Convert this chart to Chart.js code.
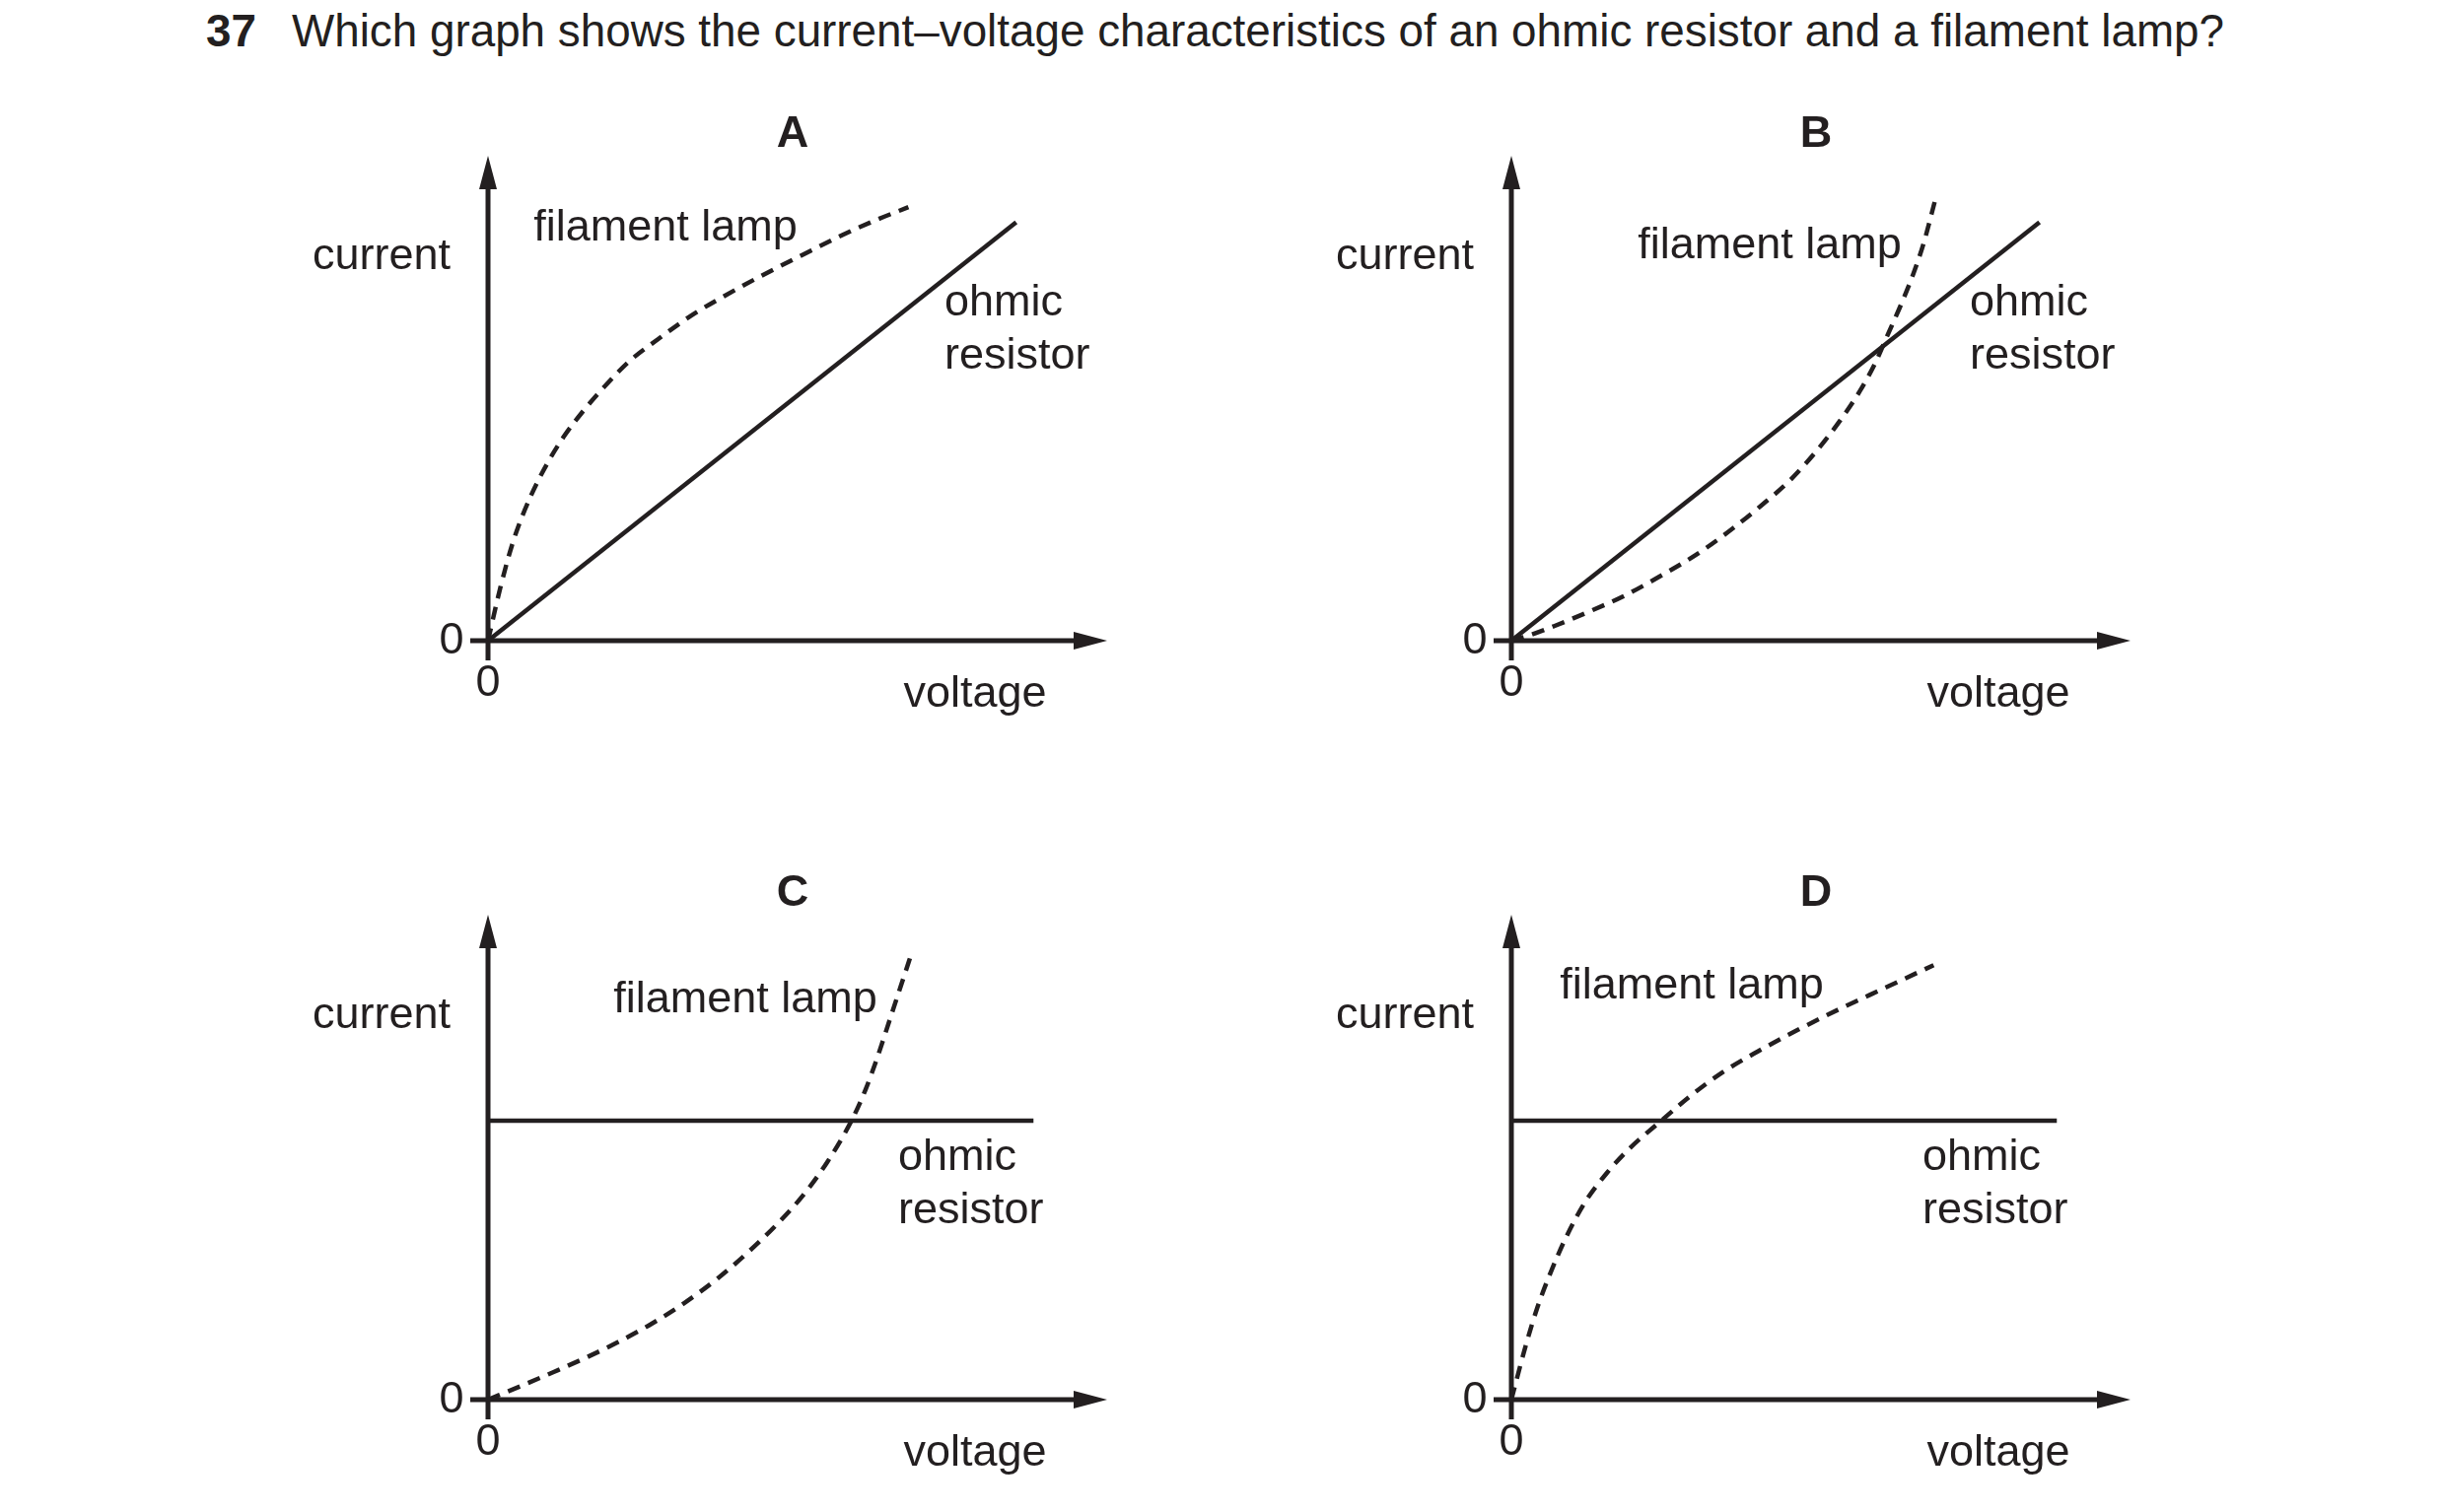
<!DOCTYPE html>
<html>
<head>
<meta charset="utf-8">
<script src="https://cdn.jsdelivr.net/npm/chart.js@4.4.0/dist/chart.umd.min.js"></script>
<style>
  html, body { margin: 0; padding: 0; background: #fff; }
  body { width: 2480px; height: 1534px; position: relative; overflow: hidden;
         font-family: "Liberation Sans", Arial, sans-serif; color: #231f20; }
  .q { position: absolute; top: 6px; font-size: 45.8px; white-space: nowrap; }
  canvas { position: absolute; }
</style>
</head>
<body>
<div class="q" style="left:209px;font-weight:bold">37</div>
<div class="q" style="left:296px">Which graph shows the current–voltage characteristics of an ohmic resistor and a filament lamp?</div>
<canvas id="cA" width="1000" height="640"></canvas>
<canvas id="cB" width="1000" height="640"></canvas>
<canvas id="cC" width="1000" height="640"></canvas>
<canvas id="cD" width="1000" height="640"></canvas>
<script>
// values are in % of the axis length (origin -> arrow tip)
const lampA_V = [0, 2.1, 4.2, 6.9, 9.6, 12.2, 15.4, 19.1, 22.8, 27.6, 32.9, 38.2, 44.1, 50.4, 57.3, 62.6, 67.9];
const lampA_I = [0, 11.5, 21.0, 29.8, 36.6, 42.0, 47.4, 52.8, 57.6, 62.3, 67.1, 71.1, 75.2, 79.3, 83.7, 86.7, 89.4];

const lampB_V = [0, 2.7, 6.9, 12.2, 18.0, 23.9, 29.7, 35.0, 40.3, 45.1, 49.4, 53.1, 56.3, 58.9, 61.0, 63.1, 65.0, 66.6, 68.5];
const lampB_I = [0, 1.0, 3.0, 5.8, 9.1, 13.2, 17.6, 22.4, 27.8, 33.2, 39.3, 45.4, 51.5, 57.6, 63.7, 69.8, 75.9, 82.0, 91.1];

const lampC_V = [0, 5.3, 10.6, 15.9, 21.2, 26.5, 31.8, 37.2, 42.0, 46.7, 50.8, 54.8, 58.7, 61.0, 63.0, 64.8, 66.6, 68.4];
const lampC_I = [0, 2.8, 5.7, 8.7, 12.0, 15.7, 20.0, 25.1, 30.4, 36.2, 42.0, 49.0, 57.5, 64.0, 71.0, 78.0, 85.0, 92.0];

const lampD_V = [0, 2.4, 4.2, 6.4, 9.0, 11.9, 15.4, 19.1, 24.2, 28.7, 34.0, 39.8, 46.2, 53.1, 60.5, 68.2];
const lampD_I = [0, 11.5, 19.0, 26.4, 33.9, 40.7, 46.7, 51.8, 57.5, 62.4, 67.4, 71.8, 76.2, 80.6, 85.0, 89.6];

const ohmSlope_V = [0, 85.3];
const ohmSlope_I = [0, 86.3];
const ohmFlat_V = [0, 88.1];
const ohmFlat_I = [57.5, 57.5];

const tickLabels = ['0'];
const axisTitles = { x: 'voltage', y: 'current' };
const seriesNames = ['filament lamp', 'ohmic', 'resistor'];

const ink = '#231f20';
const FONT = '"Liberation Sans", Arial, sans-serif';
const AXIS_MAX = 100;

// layout: origin pixel of each panel + text offsets from origin
const panels = [
  { id: 'cA', letter: 'A', origin: [495, 650],  lamp: [lampA_V, lampA_I], ohm: [ohmSlope_V, ohmSlope_I], lampLbl: [180, -418], ohmLbl: [463, -342] },
  { id: 'cB', letter: 'B', origin: [1533, 650], lamp: [lampB_V, lampB_I], ohm: [ohmSlope_V, ohmSlope_I], lampLbl: [262, -400], ohmLbl: [465, -342] },
  { id: 'cC', letter: 'C', origin: [495, 1420], lamp: [lampC_V, lampC_I], ohm: [ohmFlat_V, ohmFlat_I],   lampLbl: [261, -405], ohmLbl: [416, -245] },
  { id: 'cD', letter: 'D', origin: [1533, 1420], lamp: [lampD_V, lampD_I], ohm: [ohmFlat_V, ohmFlat_I],  lampLbl: [183, -419], ohmLbl: [417, -245] },
];
const CW = 1000, CH = 640, PAD = { left: 295, right: 77, top: 68, bottom: 80 };

const toXY = (vs, is) => vs.map((v, k) => ({ x: v, y: is[k] }));

function txt(ctx, s, x, y, align, bold) {
  ctx.font = (bold ? 'bold ' : '') + '45px ' + FONT;
  ctx.textAlign = align;
  ctx.textBaseline = 'middle';
  ctx.fillText(s, x, y);
}

const axesPlugin = {
  id: 'axesPlugin',
  beforeDatasetsDraw(chart) {
    const { ctx, scales: { x, y } } = chart;
    const ox = x.getPixelForValue(0), oy = y.getPixelForValue(0);
    const tx = x.getPixelForValue(AXIS_MAX), ty = y.getPixelForValue(AXIS_MAX);
    const L = 34, W = 9;
    ctx.save();
    ctx.strokeStyle = ink; ctx.fillStyle = ink; ctx.lineWidth = 5;
    ctx.beginPath();
    ctx.moveTo(ox - 18, oy); ctx.lineTo(tx - L + 2, oy);
    ctx.moveTo(ox, oy + 20); ctx.lineTo(ox, ty + L - 2);
    ctx.stroke();
    ctx.beginPath();
    ctx.moveTo(tx, oy); ctx.lineTo(tx - L, oy - W); ctx.lineTo(tx - L, oy + W); ctx.closePath();
    ctx.moveTo(ox, ty); ctx.lineTo(ox - W, ty + L); ctx.lineTo(ox + W, ty + L); ctx.closePath();
    ctx.fill();
    ctx.restore();
  },
  afterDraw(chart, args, opts) {
    const { ctx, scales: { x, y } } = chart;
    const ox = x.getPixelForValue(0), oy = y.getPixelForValue(0);
    const p = opts.panel;
    ctx.save();
    ctx.fillStyle = ink;
    txt(ctx, p.letter, ox + 309, oy - 513, 'center', true);
    txt(ctx, axisTitles.y, ox - 108, oy - 389, 'center');
    txt(ctx, axisTitles.x, ox + 494, oy + 55, 'center');
    txt(ctx, tickLabels[0], ox - 37, oy + 1, 'center');
    txt(ctx, tickLabels[0], ox, oy + 44, 'center');
    txt(ctx, seriesNames[0], ox + p.lampLbl[0], oy + p.lampLbl[1], 'center');
    txt(ctx, seriesNames[1], ox + p.ohmLbl[0], oy + p.ohmLbl[1], 'left');
    txt(ctx, seriesNames[2], ox + p.ohmLbl[0], oy + p.ohmLbl[1] + 54, 'left');
    ctx.restore();
  }
};

panels.forEach(p => {
  const cv = document.getElementById(p.id);
  cv.style.left = (p.origin[0] - PAD.left) + 'px';
  cv.style.top = (p.origin[1] - (CH - PAD.bottom)) + 'px';
  new Chart(cv, {
    type: 'scatter',
    data: {
      datasets: [
        { label: 'filament lamp', data: toXY(p.lamp[0], p.lamp[1]), showLine: true, borderColor: ink,
          borderWidth: 4.5, borderDash: [13, 9], pointRadius: 0, cubicInterpolationMode: 'monotone', clip: false },
        { label: 'ohmic resistor', data: toXY(p.ohm[0], p.ohm[1]), showLine: true, borderColor: ink,
          borderWidth: 4.5, pointRadius: 0, clip: false },
      ]
    },
    options: {
      responsive: false, animation: false, devicePixelRatio: 1,
      layout: { padding: PAD },
      scales: {
        x: { type: 'linear', min: 0, max: AXIS_MAX, display: false },
        y: { type: 'linear', min: 0, max: AXIS_MAX, display: false },
      },
      plugins: { legend: { display: false }, tooltip: { enabled: false }, axesPlugin: { panel: p } },
    },
    plugins: [axesPlugin],
  });
});
</script>
</body>
</html>
